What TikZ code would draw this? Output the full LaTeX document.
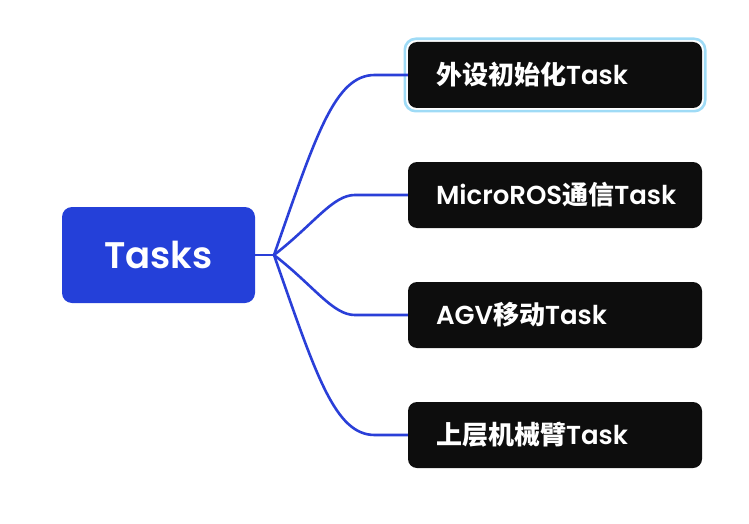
\documentclass[tikz,border=0pt]{standalone}
\usepackage{fontspec}
\setmainfont{Poppins}[BoldFont={Poppins SemiBold}]
\newfontfamily\cjk{Noto Sans CJK SC}
\usepackage{tikz}
\usetikzlibrary{positioning,calc}

\definecolor{rootblue}{HTML}{2440D9}
\definecolor{linkblue}{HTML}{2A3FD8}
\definecolor{taskblack}{HTML}{0D0D0D}
\definecolor{selcyan}{HTML}{9FDBF6}

\tikzset{
  root/.style={fill=rootblue, text=white, rounded corners=10pt, minimum width=193pt, minimum height=96pt, font=\fontsize{37}{40}\selectfont\bfseries},
  task/.style={fill=taskblack, text=white, rounded corners=9pt, minimum height=66pt, text width=238pt, inner xsep=28pt, align=left, font=\fontsize{26}{28}\selectfont\bfseries},
  link/.style={draw=linkblue, line width=2.6pt},
  select/.style={draw=selcyan, line width=2.6pt, rounded corners=11pt}
}

\begin{document}
\begin{tikzpicture}[x=1pt,y=-1pt]
\useasboundingbox (0,0) rectangle (749,524);

% Root
\node[root] (tasks) at (158.5,255) {Tasks};
\coordinate (j) at (274,255);

% Tasks
\node[task] (t1) at (555,75) {{\cjk 外设初始化}Task};
\node[task] (t2) at (555,195) {MicroROS{\cjk 通信}Task};
\node[task] (t3) at (555,315) {AGV{\cjk 移动}Task};
\node[task] (t4) at (555,435) {{\cjk 上层机械臂}Task};

% Selection frame
\draw[select] ([shift={(-3pt,3pt)}]t1.north west) rectangle ([shift={(3pt,-3pt)}]t1.south east);

% Branches
\draw[link] (tasks.east) -- (j);
\draw[link] (j) .. controls +(42,-120) and +(-40,0) .. ([xshift=-33pt]t1.west) -- (t1.west);
\draw[link] (j) .. controls +(40,-31) and +(-22,0) .. ([xshift=-53pt]t2.west) -- (t2.west);
\draw[link] (j) .. controls +(40,31) and +(-22,0) .. ([xshift=-53pt]t3.west) -- (t3.west);
\draw[link] (j) .. controls +(42,120) and +(-40,0) .. ([xshift=-33pt]t4.west) -- (t4.west);
\end{tikzpicture}
\end{document}
